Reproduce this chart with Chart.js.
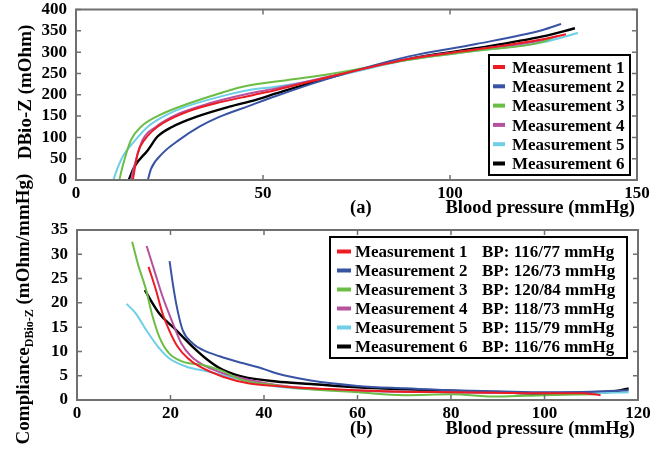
<!DOCTYPE html>
<html><head><meta charset="utf-8">
<script src="https://cdn.jsdelivr.net/npm/chart.js@4.4.1/dist/chart.umd.min.js"></script>
<style>
html,body{margin:0;padding:0;background:#fff;}
#wrap{position:relative;width:665px;height:452px;overflow:hidden;background:#fff;font-family:"Liberation Serif","Times New Roman",serif;font-weight:bold;color:#000;}
canvas{position:absolute;left:0;}
.t{position:absolute;white-space:nowrap;font-size:18.5px;line-height:1;}
.r{font-size:19px;transform:translate(-50%,-50%) rotate(-90deg);}
sub{font-size:12px;line-height:1;}
</style></head><body>
<div id="wrap">
<canvas id="ca" width="665" height="200" style="top:0;width:665px;height:200px"></canvas>
<canvas id="cb" width="665" height="237" style="top:215px;width:665px;height:237px"></canvas>
<div class="t" style="right:30px;top:198px">Blood pressure (mmHg)</div>
<div class="t" style="left:350px;top:198px">(a)</div>
<div class="t" style="right:30px;top:419px">Blood pressure (mmHg)</div>
<div class="t" style="left:350px;top:419px">(b)</div>
<div class="t r" style="left:24px;top:92px">DBio-Z (mOhm)</div>
<div class="t r" style="left:24px;top:309px">Compliance<sub>DBio-Z</sub> (mOhm/mmHg)</div>
</div>
<script>
// ---------- data ----------
const seriesNames = ['Measurement 1','Measurement 2','Measurement 3','Measurement 4','Measurement 5','Measurement 6'];
const bpLabels = ['BP: 116/77 mmHg','BP: 126/73 mmHg','BP: 120/84 mmHg','BP: 118/73 mmHg','BP: 115/79 mmHg','BP: 116/76 mmHg'];
const colors = ['#ed1c24','#3953a4','#6cbd45','#b6519e','#6fcfe6','#000000'];

// (a) DBio-Z vs blood pressure
const aBP1 = [15.2,16.5,18.3,21.8,28.5,37.4,47.2,53.5,66.8,89,107,124.8,131];
const aZ1  = [0,63,94,125,156,180,199,211,240,284,306,330,342];
const aBP2 = [19.2,20.1,23.2,27.6,33,38.3,46.3,53.5,66.8,89,107,124.8,129.7];
const aZ2  = [0,27,63,94,125,148,174,197,236,290,319,352,366];
const aBP3 = [11.6,12.2,14.7,17.4,22.3,30.3,38.3,44.6,53.5,66.8,89,107,124.8,127.5];
const aZ3  = [0,23,94,125,152,180,203,219,231,247,282,303,324,334];
const aBP4 = [14.7,15.5,17.8,21.4,27.6,35.7,46.3,53.5,66.8,89,107,124.8,128.6];
const aZ4  = [0,30,94,125,156,180,203,215,241,284,306,328,337];
const aBP5 = [10,10.9,12.5,15.9,19.2,23.2,29.4,38.3,46.3,53.5,66.8,89,107,124.8,134.2];
const aZ5  = [0,23,55,94,125,148,172,195,211,219,239,282,303,323,345];
const aBP6 = [14.1,15.6,19.2,21.8,25.8,32.1,41,48.1,53.5,66.8,89,107,124.8,133.4];
const aZ6  = [0,31,70,102,125,148,172,188,203,238,284,309,337,356];

// (b) Compliance vs blood pressure
const bBP1 = [15.3,16.9,18.3,19.7,21.5,23.7,26.2,31.2,36.9,42.6,50,60,70,80,90,100,108,112];
const bC1  = [27.4,22.6,17.8,14.4,11,8.6,6.9,4.8,3.4,2.9,2.4,2.0,1.7,1.6,1.5,1.4,1.4,1.0];
const bBP2 = [19.8,20.6,21.5,22.6,24.7,26.9,30.5,35.4,39.6,42.6,50,60,70,80,90,100,110,118];
const bC2  = [28.6,23.3,18.5,14.4,11.7,10.3,9.0,7.6,6.5,5.5,4.0,2.9,2.4,2.0,1.8,1.6,1.7,2.0];
const bBP3 = [11.8,13,14.8,16,17.6,19.7,22.6,26.9,30.5,35.4,42.6,50,60,70,80,90,100,111];
const bC3  = [32.6,28.1,22.6,17.8,13,9.6,7.9,7.2,6.2,4.1,3.0,2.2,1.6,1.0,1.2,0.7,1.0,1.2];
const bBP4 = [14.9,16.5,18.3,20.5,22.3,24.4,27.6,31.2,36.9,42.6,50,60,70,80,90,100,110];
const bC4  = [31.7,26.8,21.3,15.8,11.7,9,6.9,5.5,4.1,3.1,2.4,1.9,1.7,1.6,1.5,1.5,1.5];
const bBP5 = [10.6,12.6,14.8,17.3,19.7,23.3,28.3,34,42.6,50,60,70,80,90,100,110,118];
const bC5  = [19.8,17.8,14.4,11,8.6,6.9,5.8,4.4,2.8,2.2,1.9,1.7,1.6,1.5,1.4,1.4,1.6];
const bBP6 = [14.5,17.6,21.2,24.7,27.9,31.2,35.4,42.6,50,60,70,80,90,100,110,115,118];
const bC6  = [22.6,17.8,14.4,11,8.3,6.2,4.8,3.8,3.3,2.6,2.2,1.9,1.6,1.3,1.4,1.8,2.4];

const aXTicks = [0,50,100,150], aYTicks = [0,50,100,150,200,250,300,350,400];
const bXTicks = [0,20,40,60,80,100,120], bYTicks = [0,5,10,15,20,25,30,35];

// ---------- helpers ----------
const FONT = '"Liberation Serif","Times New Roman",serif';
const pair = (xs, ys) => xs.map((x,i)=>({x, y: ys[i]}));
const mkSets = (list) => list.map((d,i)=>({
  label: seriesNames[i], data: pair(d[0], d[1]),
  borderColor: colors[i], backgroundColor: colors[i],
  borderWidth: i===5 ? 2.4 : 2, pointRadius: 0, showLine: true,
  cubicInterpolationMode: 'monotone', fill: false
}));

const framePlugin = {
  id: 'frame',
  afterDraw(chart) {
    const {ctx, chartArea: a, scales: {x, y}} = chart;
    ctx.save();
    ctx.strokeStyle = '#707070';
    ctx.lineWidth = 2;
    ctx.strokeRect(a.left, a.top, a.right - a.left, a.bottom - a.top);
    ctx.lineWidth = 1.5;
    const L = 5;
    ctx.beginPath();
    x.ticks.forEach(t => { const p = x.getPixelForValue(t.value);
      ctx.moveTo(p, a.bottom); ctx.lineTo(p, a.bottom - L);
      ctx.moveTo(p, a.top); ctx.lineTo(p, a.top + L); });
    y.ticks.forEach(t => { const p = y.getPixelForValue(t.value);
      ctx.moveTo(a.left, p); ctx.lineTo(a.left + L, p);
      ctx.moveTo(a.right, p); ctx.lineTo(a.right - L, p); });
    ctx.stroke();
    ctx.restore();
  }
};

const boxLegend = {
  id: 'boxLegend',
  afterDraw(chart, args, o) {
    const {ctx, chartArea: a} = chart;
    const right = a.right - o.rightGap, top = a.top + o.topGap;
    const left = right - o.width, h = o.height;
    ctx.save();
    ctx.fillStyle = '#fff';
    ctx.fillRect(left, top, o.width, h);
    ctx.strokeStyle = '#000'; ctx.lineWidth = 2;
    ctx.strokeRect(left, top, o.width, h);
    ctx.font = 'bold 17px ' + FONT;
    ctx.textBaseline = 'alphabetic';
    ctx.textAlign = 'left';
    chart.data.datasets.forEach((ds, i) => {
      const cy = top + o.first + i * o.pitch;
      ctx.fillStyle = ds.borderColor;
      ctx.fillRect(left + o.sx, cy - 2, o.sw, 4);
      ctx.fillStyle = '#000';
      ctx.fillText(ds.label, left + o.tx, cy + 5.7);
      if (o.extra) ctx.fillText(o.extra[i], left + o.ex, cy + 5.7);
    });
    ctx.restore();
  }
};

function mkOptions(xr, yr, xt, yt, pad, yW, xH, legend) {
  const tickFont = {family: FONT, weight: 'bold', size: 17};
  return {
    responsive: false, animation: false, devicePixelRatio: 1,
    layout: {padding: pad},
    plugins: {legend: {display: false}, tooltip: {enabled: false}, boxLegend: legend},
    scales: {
      x: {type: 'linear', min: xr[0], max: xr[1],
        afterFit: s => { s.height = xH; s.paddingLeft = 0; s.paddingRight = 0; },
        afterBuildTicks: s => { s.ticks = xt.map(v => ({value: v})); },
        grid: {display: false, drawTicks: false}, border: {display: false},
        ticks: {font: tickFont, color: '#000', padding: 3, maxRotation: 0, autoSkip: false}},
      y: {type: 'linear', min: yr[0], max: yr[1],
        afterFit: s => { s.width = yW; s.paddingTop = 0; s.paddingBottom = 0; },
        afterBuildTicks: s => { s.ticks = yt.map(v => ({value: v})); },
        grid: {display: false, drawTicks: false}, border: {display: false},
        ticks: {font: tickFont, color: '#000', padding: 9, autoSkip: false}}
    }
  };
}

new Chart(document.getElementById('ca'), {
  type: 'scatter',
  data: {datasets: mkSets([[aBP1,aZ1],[aBP2,aZ2],[aBP3,aZ3],[aBP4,aZ4],[aBP5,aZ5],[aBP6,aZ6]])},
  options: mkOptions([0,150],[0,400], aXTicks, aYTicks,
    {left: 0, right: 28, top: 9.5, bottom: 0}, 76, 20,
    {rightGap: 7, topGap: 45.5, width: 141, height: 120, first: 12, pitch: 19.3, sx: 4, sw: 12, tx: 23}),
  plugins: [framePlugin, boxLegend]
});

new Chart(document.getElementById('cb'), {
  type: 'scatter',
  data: {datasets: mkSets([[bBP1,bC1],[bBP2,bC2],[bBP3,bC3],[bBP4,bC4],[bBP5,bC5],[bBP6,bC6]])},
  options: mkOptions([0,120],[0,35], bXTicks, bYTicks,
    {left: 0, right: 27, top: 15, bottom: 0}, 77, 52,
    {rightGap: 11, topGap: 7, width: 297, height: 121, first: 14.5, pitch: 19, sx: 7, sw: 14, tx: 25, ex: 152, extra: bpLabels}),
  plugins: [framePlugin, boxLegend]
});
</script>
</body></html>
